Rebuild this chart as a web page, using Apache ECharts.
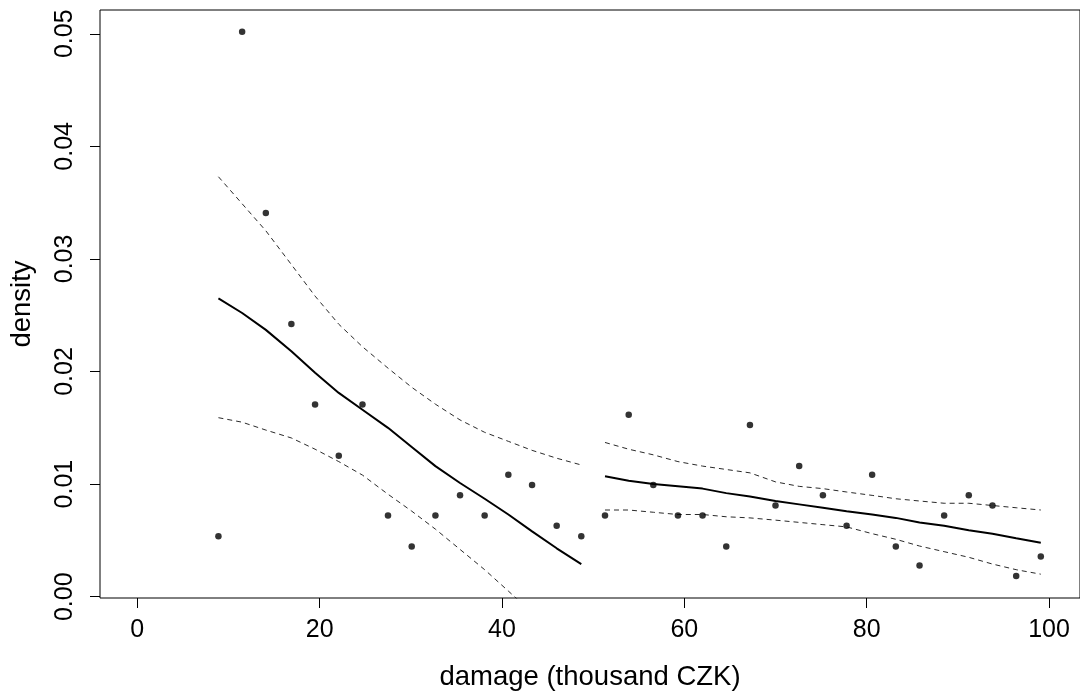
<!DOCTYPE html>
<html>
<head>
<meta charset="utf-8">
<script src="https://cdn.jsdelivr.net/npm/echarts@6/dist/echarts.min.js"></script>
<style>html,body{margin:0;padding:0;background:#fff}#c{width:1080px;height:696px}</style>
</head>
<body>
<div id="c"></div>
<script>
const damage = [8.9, 11.5, 14.1, 16.9, 19.5, 22.1, 24.7, 27.5, 30.1, 32.7, 35.4, 38.1, 40.7, 43.3, 46.0, 48.7,
  51.3, 53.9, 56.6, 59.3, 62.0, 64.6, 67.2, 70.0, 72.6, 75.2, 77.8, 80.6, 83.2, 85.8, 88.5, 91.2, 93.8, 96.4, 99.1];
const density = [0.00538, 0.05017, 0.03407, 0.02422, 0.01707, 0.01253, 0.01707, 0.00721, 0.00447, 0.00721, 0.0090, 0.00721, 0.01083, 0.00992, 0.0063, 0.00538,
  0.00721, 0.01615, 0.00992, 0.00721, 0.00721, 0.00447, 0.01524, 0.0081, 0.01162, 0.0090, 0.0063, 0.01083, 0.00447, 0.00277, 0.00721, 0.0090, 0.0081, 0.00185, 0.00357];
const fitLeft = [0.0265, 0.0252, 0.0237, 0.0218, 0.0199, 0.0181, 0.0166, 0.0150, 0.0133, 0.0116, 0.0101, 0.0087, 0.0073, 0.0058, 0.0043, 0.0029];
const fitRight = [0.0107, 0.0103, 0.0100, 0.0098, 0.0096, 0.0092, 0.0089, 0.0085, 0.0082, 0.0079, 0.0076, 0.0073, 0.0070, 0.0066, 0.0063, 0.0059, 0.0056, 0.0052, 0.0048];
const upperLeft = [0.0373, 0.0349, 0.0325, 0.0295, 0.0267, 0.0242, 0.0222, 0.0203, 0.0186, 0.0171, 0.0157, 0.0146, 0.0138, 0.0130, 0.0123, 0.0117];
const upperRight = [0.0137, 0.0131, 0.0126, 0.0120, 0.0116, 0.0113, 0.0110, 0.0102, 0.0098, 0.0096, 0.0093, 0.0090, 0.0087, 0.0085, 0.0083, 0.0083, 0.0081, 0.0079, 0.0077];
const lowerLeft = [0.0159, 0.0155, 0.0148, 0.0141, 0.0131, 0.0120, 0.0108, 0.0091, 0.0076, 0.0060, 0.0042, 0.0024, 0.0005, -0.0014, -0.0034, -0.0054];
const lowerRight = [0.0077, 0.0077, 0.0075, 0.0073, 0.0073, 0.0071, 0.0070, 0.0068, 0.0066, 0.0064, 0.0062, 0.0056, 0.0051, 0.0045, 0.0040, 0.0035, 0.0029, 0.0024, 0.0020];
const xTicks = [0, 20, 40, 60, 80, 100];
const yTicks = [0, 0.01, 0.02, 0.03, 0.04, 0.05];

const xL = damage.slice(0, 16), xR = damage.slice(16);
const pair = (xs, ys) => xs.map((x, i) => [x, ys[i]]);
const FONT = '"Liberation Sans", Arial, sans-serif';

const dashed = { color: '#2a2a2a', width: 1, type: [5, 4] };
const solid = { color: '#000', width: 2 };
function lineSeries(data, style) {
  return { type: 'line', data, showSymbol: false, symbol: 'none', lineStyle: style, clip: true, silent: true, animation: false, z: 2 };
}

const chart = echarts.init(document.getElementById('c'), null, { renderer: 'canvas' });
chart.setOption({
  animation: false,
  backgroundColor: '#fff',
  grid: { left: 99, top: 10, width: 982, height: 592, show: true, borderColor: '#000', borderWidth: 1, backgroundColor: 'transparent' },
  xAxis: {
    type: 'value', min: -4.09, max: 103.4,
    name: 'damage (thousand CZK)', nameLocation: 'middle', nameGap: 65,
    nameTextStyle: { fontFamily: FONT, fontSize: 27.5, color: '#000' },
    axisLine: { show: false, onZero: false },
    splitLine: { show: false },
    axisTick: { show: true, inside: false, length: 10, customValues: xTicks, lineStyle: { color: '#000', width: 1 } },
    axisLabel: { customValues: xTicks, margin: 20, fontFamily: FONT, fontSize: 25, color: '#000', formatter: v => String(Math.round(v)) }
  },
  yAxis: {
    type: 'value', min: -0.000115, max: 0.05211,
    name: 'density', nameLocation: 'middle', nameGap: 64, nameRotate: 90,
    nameTextStyle: { fontFamily: FONT, fontSize: 27.5, color: '#000' },
    axisLine: { show: false, onZero: false },
    splitLine: { show: false },
    axisTick: { show: true, inside: false, length: 10, customValues: yTicks, lineStyle: { color: '#000', width: 1 } },
    axisLabel: { customValues: yTicks, rotate: 90, margin: 22, fontFamily: FONT, fontSize: 25, color: '#000', formatter: v => v.toFixed(2) }
  },
  series: [
    lineSeries(pair(xL, fitLeft), solid),
    lineSeries(pair(xR, fitRight), solid),
    lineSeries(pair(xL, upperLeft), dashed),
    lineSeries(pair(xR, upperRight), dashed),
    lineSeries(pair(xL, lowerLeft), dashed),
    lineSeries(pair(xR, lowerRight), dashed),
    { type: 'scatter', data: pair(damage, density), symbol: 'circle', symbolSize: 6.5, itemStyle: { color: '#000' }, silent: true, z: 3 }
  ]
});
</script>
</body>
</html>
